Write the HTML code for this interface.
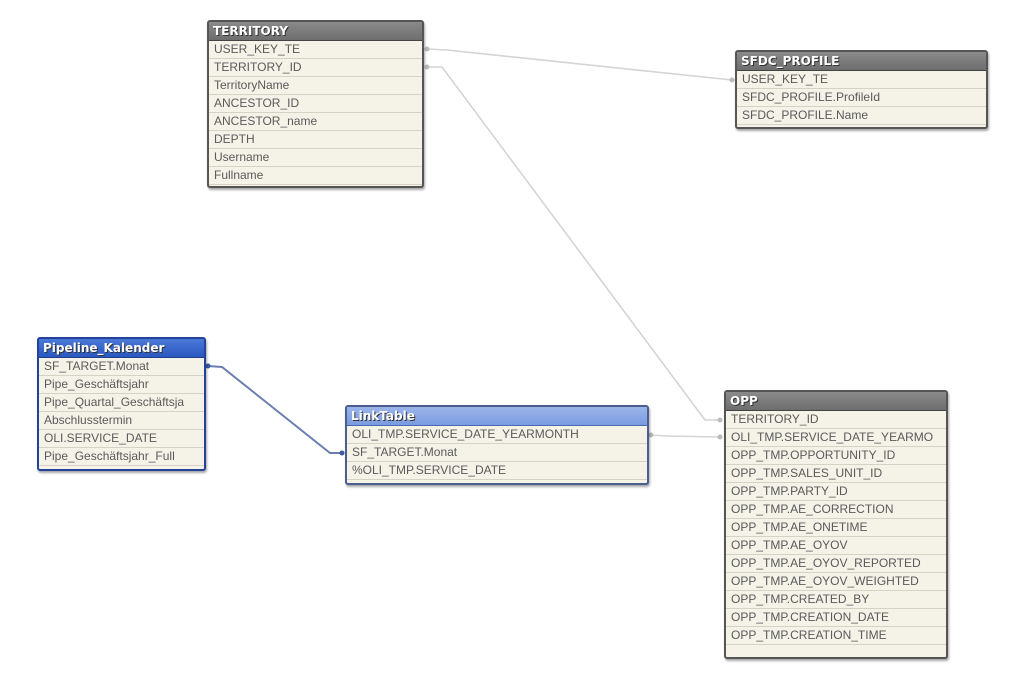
<!DOCTYPE html>
<html><head><meta charset="utf-8"><style>
body{margin:0;width:1024px;height:678px;background:#fff;position:relative;overflow:hidden;font-family:"Liberation Sans",sans-serif}
.t{position:absolute;border:2px solid #555;border-radius:3px;background:#f5f2e8;box-shadow:1px 2px 2px rgba(0,0,0,.35);box-sizing:border-box}
.h{height:18px;line-height:18px;color:#fff;font-weight:bold;font-size:12px;padding-left:4px;background:linear-gradient(#8a8a8a,#6e6e6e);text-shadow:1px 1px 0 #333;border-bottom:1px solid #444;font-family:"DejaVu Sans",sans-serif}
.b .h{background:linear-gradient(#4a78d8,#2a58c0);border-bottom-color:#1e3e90}
.lb .h{background:linear-gradient(#9bb5ea,#7a9be0);border-bottom-color:#4a6ab0}
.b{border-color:#23429a}.lb{border-color:#4a5f90}
.r{height:17px;line-height:17px;border-bottom:1px solid #d6d2c6;color:#5a5a5a;padding-left:5px;white-space:nowrap;overflow:hidden;font-family:"Liberation Sans",sans-serif;font-size:12px}
</style></head><body>
<svg width="1024" height="678" style="position:absolute;left:0;top:0">
<g fill="none" stroke="#d4d4d4" stroke-width="1.6">
<polyline points="427,49 447,50 732,80"/>
<polyline points="427,67 442,67 705,420 720,420"/>
<polyline points="651,435 668,436 720,437"/>
</g>
<polyline points="208,366 222,367 330,453 342,453" fill="none" stroke="#6a7fb0" stroke-width="2"/>
<g fill="#bbb"><circle cx="427" cy="49" r="2.5"/><circle cx="427" cy="67" r="2.5"/><circle cx="732" cy="80" r="2.5"/><circle cx="720" cy="420" r="2.5"/><circle cx="720" cy="437" r="2.5"/><circle cx="651" cy="435" r="2.5"/></g>
<g fill="#3a5aa8"><circle cx="208" cy="366" r="2.5"/><circle cx="342" cy="453" r="2.5"/></g>
</svg>
<div class="t" style="left:207px;top:20px;width:217px;height:168px"><div class="h">TERRITORY</div>
<div class="r">USER_KEY_TE</div><div class="r">TERRITORY_ID</div><div class="r">TerritoryName</div><div class="r">ANCESTOR_ID</div><div class="r">ANCESTOR_name</div><div class="r">DEPTH</div><div class="r">Username</div><div class="r">Fullname</div></div>
<div class="t" style="left:735px;top:50px;width:253px;height:79px"><div class="h">SFDC_PROFILE</div>
<div class="r">USER_KEY_TE</div><div class="r">SFDC_PROFILE.ProfileId</div><div class="r">SFDC_PROFILE.Name</div></div>
<div class="t b" style="left:37px;top:337px;width:169px;height:134px"><div class="h">Pipeline_Kalender</div>
<div class="r">SF_TARGET.Monat</div><div class="r">Pipe_Geschäftsjahr</div><div class="r">Pipe_Quartal_Geschäftsja</div><div class="r">Abschlusstermin</div><div class="r">OLI.SERVICE_DATE</div><div class="r">Pipe_Geschäftsjahr_Full</div></div>
<div class="t lb" style="left:345px;top:405px;width:304px;height:80px"><div class="h">LinkTable</div>
<div class="r">OLI_TMP.SERVICE_DATE_YEARMONTH</div><div class="r">SF_TARGET.Monat</div><div class="r">%OLI_TMP.SERVICE_DATE</div></div>
<div class="t" style="left:724px;top:390px;width:224px;height:269px"><div class="h">OPP</div>
<div class="r">TERRITORY_ID</div><div class="r">OLI_TMP.SERVICE_DATE_YEARMO</div><div class="r">OPP_TMP.OPPORTUNITY_ID</div><div class="r">OPP_TMP.SALES_UNIT_ID</div><div class="r">OPP_TMP.PARTY_ID</div><div class="r">OPP_TMP.AE_CORRECTION</div><div class="r">OPP_TMP.AE_ONETIME</div><div class="r">OPP_TMP.AE_OYOV</div><div class="r">OPP_TMP.AE_OYOV_REPORTED</div><div class="r">OPP_TMP.AE_OYOV_WEIGHTED</div><div class="r">OPP_TMP.CREATED_BY</div><div class="r">OPP_TMP.CREATION_DATE</div><div class="r">OPP_TMP.CREATION_TIME</div></div>
</body></html>
